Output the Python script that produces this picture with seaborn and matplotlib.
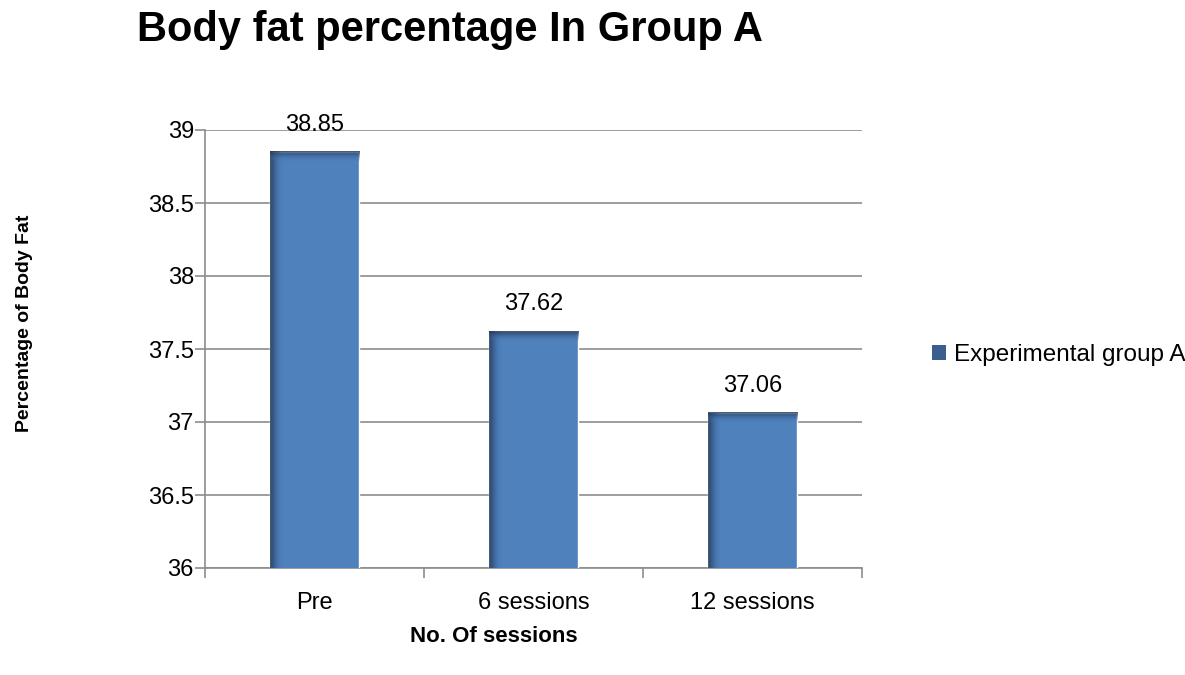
import numpy as np
import pandas as pd
import matplotlib.pyplot as plt
import seaborn as sns
from matplotlib.colors import LinearSegmentedColormap
from matplotlib.patches import Patch

sessions = ["Pre", "6 sessions", "12 sessions"]
body_fat = [38.85, 37.62, 37.06]
series_name = "Experimental group A"

BAR_COLOR = "#4F81BD"
GRID_COLOR = "#8C8C8C"

sns.set_theme(style="white")
plt.rcParams["font.family"] = ["Liberation Sans", "DejaVu Sans"]
plt.rcParams["text.color"] = "black"
plt.rcParams["xtick.color"] = "black"
plt.rcParams["ytick.color"] = "black"

df = pd.DataFrame({"session": sessions, "fat": body_fat})

fig = plt.figure(figsize=(11.85, 6.75), dpi=100)
ax = fig.add_axes([205 / 1185, 1 - 568 / 675, (862 - 205) / 1185, (568 - 130) / 675])

sns.barplot(data=df, x="session", y="fat", color=BAR_COLOR, width=0.41,
            saturation=1, ax=ax, zorder=3)
ax.set_ylim(36, 39)
ax.set_xlim(-0.5, 2.5)

# dark shading on the left and top edge of each bar
shade = LinearSegmentedColormap.from_list("shade", [(0.12, 0.2, 0.32, 0.85), (0.31, 0.5, 0.74, 0.0)])
for bar in ax.patches:
    x0, w = bar.get_x(), bar.get_width()
    h = bar.get_height()
    grad = np.linspace(0, 1, 50).reshape(1, -1)
    ax.imshow(grad, extent=(x0, x0 + w * 0.15, 36, h), aspect="auto", cmap=shade,
              zorder=4, interpolation="bicubic")
    gradv = np.linspace(0, 1, 50).reshape(-1, 1)
    ax.imshow(gradv, extent=(x0, x0 + w, h - 0.07, h), aspect="auto", cmap=shade,
              zorder=4, interpolation="bicubic")
    ax.text(x0 + w / 2, h + 0.11, f"{h:.2f}", ha="center", va="bottom", fontsize=17,
            color="black", zorder=5)

ax.set_yticks(np.arange(36, 39.01, 0.5))
ax.set_yticklabels(["36", "36.5", "37", "37.5", "38", "38.5", "39"])
ax.yaxis.grid(True, color=GRID_COLOR, linewidth=1.2, zorder=0)
ax.set_axisbelow(True)

ax.set_xticks([0, 1, 2])
ax.set_xticklabels(sessions)
ax.set_xticks([-0.5, 0.5, 1.5, 2.5], minor=True)
ax.tick_params(axis="x", which="major", length=0, labelsize=17, pad=17)
ax.tick_params(axis="x", which="minor", length=7, color=GRID_COLOR, width=1.2, direction="out", bottom=True)
ax.tick_params(axis="y", length=7, color=GRID_COLOR, width=1.2, labelsize=17, left=True, pad=1)

for side in ["top", "right"]:
    ax.spines[side].set_visible(False)
for side in ["left", "bottom"]:
    ax.spines[side].set_color(GRID_COLOR)
    ax.spines[side].set_linewidth(1.2)

ax.set_xlabel("")
ax.set_ylabel("")

fig.text(137 / 1185, 1 - 30 / 675, "Body fat percentage In Group A", fontsize=30,
         fontweight="bold", ha="left", va="center")
fig.text(25 / 1185, 1 - 323 / 675, "Percentage of Body Fat", fontsize=14,
         fontweight="bold", rotation=90, ha="center", va="center")
fig.text(494 / 1185, 1 - 636 / 675, "No. Of sessions", fontsize=16,
         fontweight="bold", ha="center", va="center")

handles = [Patch(facecolor="#3A5F8F", edgecolor="none", label=series_name)]
fig.legend(handles=handles, loc="center left", bbox_to_anchor=(922 / 1185, 1 - 355 / 675),
           frameon=False, fontsize=17.5, handlelength=0.6, handleheight=0.6,
           handletextpad=0.3, borderaxespad=0)

fig.savefig("out.png", dpi=100)
